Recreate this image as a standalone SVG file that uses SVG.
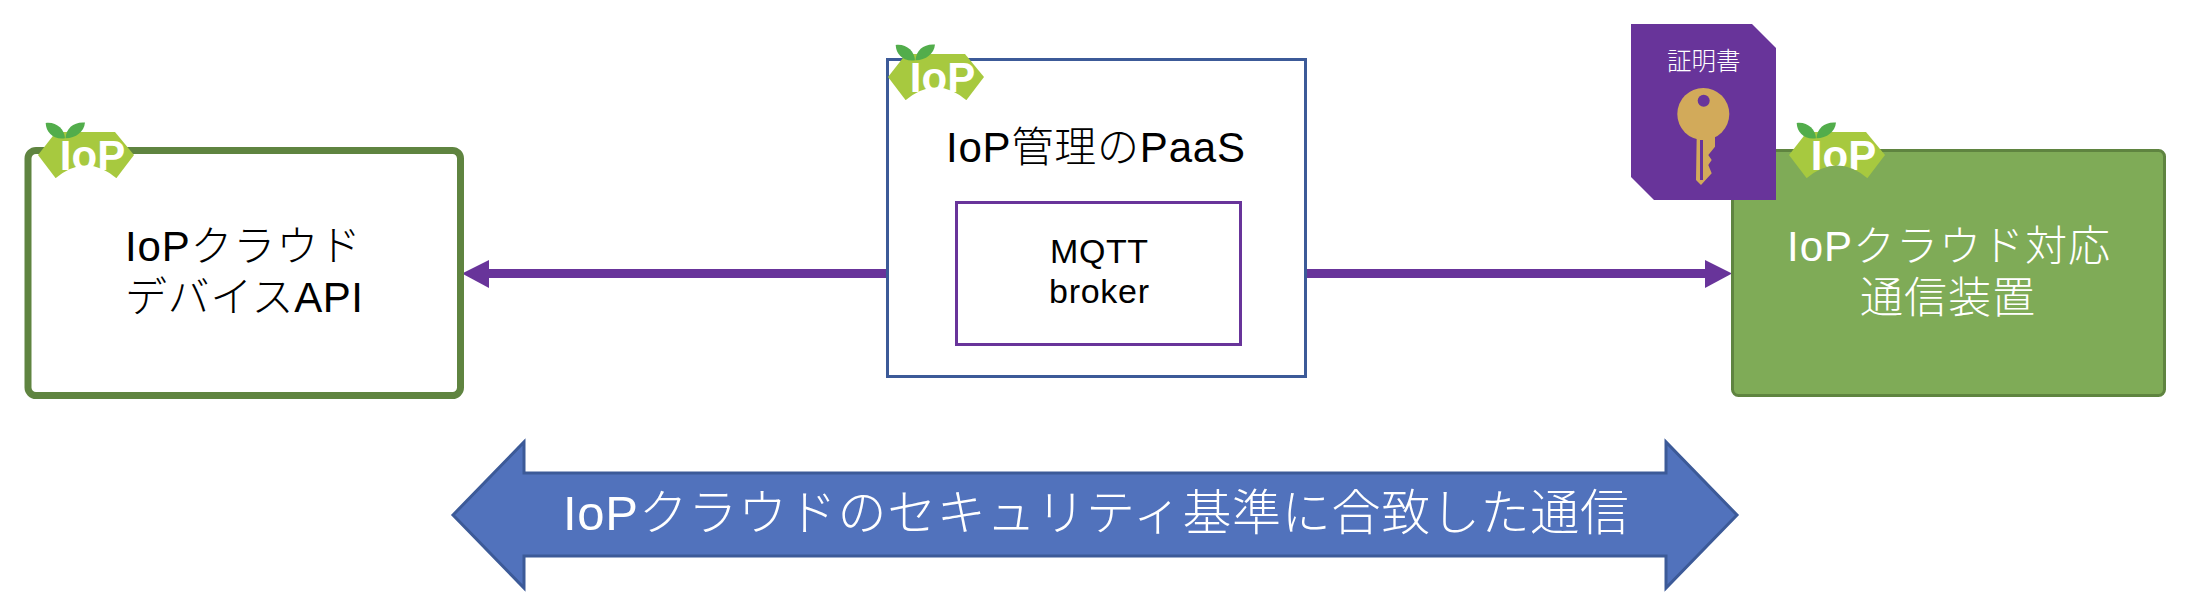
<svg xmlns="http://www.w3.org/2000/svg" width="2192" height="606" viewBox="0 0 2192 606">
<style>
.t{font-family:"Liberation Sans","Noto Sans CJK JP",sans-serif;font-weight:300}
.w{fill:#fff}
.k{fill:#000}
.lg{font-family:"Liberation Sans",sans-serif;font-weight:700;fill:#fff;font-size:42px;text-anchor:middle}
.leaf{fill:#52ad4b}
.hex{fill:#a7c93f}
.pu{fill:#68349a}
.key{fill:#d2aa5a}
</style>
<defs>
<g id="logo-base">
<polygon class="hex" points="0,23 18,0 77,0 96,23 78.500,46 17.500,46"/>
<path class="leaf" d="M7.700,-9C18,-10.500 26.500,-3 27,6.300C15,8 8,0 7.700,-9Z"/>
<path class="leaf" d="M47,-9.500C36,-10.500 28,-4 27.500,6.300C38,6 46,0 47,-9.500Z"/>
</g>
<path id="cap" d="M16.500,47Q48,20 79.500,47Z"/>
</defs>
<g id="connectors">
<rect class="pu" x="488" y="269" width="399" height="9"/>
<polygon class="pu" points="462,273.500 489,260 489,288"/>
<rect class="pu" x="1306" y="269" width="400" height="9"/>
<polygon class="pu" points="1732,273.500 1705,260 1705,288"/>
</g>
<g id="node-device">
<rect x="28" y="150.500" width="432.500" height="245" rx="8" fill="#fff" stroke="#5f8440" stroke-width="7"/>
<use href="#logo-base" x="38" y="132"/>
<text class="lg" x="92.500" y="170">IoP</text>
<use href="#cap" x="38" y="132" fill="#fff"/>
<text class="t k" x="125" y="261" font-size="42" textLength="236">IoPクラウド</text>
<text class="t k" x="125" y="312" font-size="42" textLength="238">デバイスAPI</text>
</g>
<g id="node-paas">
<rect x="887.500" y="59.500" width="418" height="317" fill="#fff" stroke="#3c5a98" stroke-width="3"/>
<use href="#logo-base" x="888" y="54"/>
<text class="lg" x="942.500" y="92">IoP</text>
<use href="#cap" x="888" y="54" fill="#fff"/>
<text class="t k" x="946" y="162" font-size="42" textLength="299">IoP管理のPaaS</text>
<rect x="956.500" y="202.500" width="284" height="142" fill="#fff" stroke="#68349a" stroke-width="3"/>
<text class="t k" x="1050" y="263" font-size="34" textLength="98">MQTT</text>
<text class="t k" x="1049" y="303" font-size="34" textLength="100">broker</text>
</g>
<g id="node-comm">
<rect x="1732.500" y="150.500" width="432" height="245" rx="6" fill="#7fab57" stroke="#5f8440" stroke-width="3"/>
<use href="#logo-base" x="1789" y="132"/>
<text class="lg" x="1843.500" y="170">IoP</text>
<use href="#cap" x="1789" y="132" fill="#7fab57"/>
<text class="t w" x="1787" y="261" font-size="42" textLength="323">IoPクラウド対応</text>
<text class="t w" x="1860" y="313" font-size="43" textLength="175">通信装置</text>
</g>
<g id="node-cert">
<polygon class="pu" points="1631,24 1752,24 1776,48 1776,200 1654,200 1631,177"/>
<text class="t w" x="1667" y="70" font-size="24.500">証明書</text>
<circle class="key" cx="1703.300" cy="114" r="26"/>
<circle class="pu" cx="1703.700" cy="100.700" r="6"/>
<polygon class="key" points="1696.700,136 1715,136 1715,146.700 1708.300,155 1711.700,160 1708.300,165 1711.700,173.300 1701,185 1696,180"/>
<rect class="pu" x="1700" y="140" width="3" height="40"/>
</g>
<g id="node-banner">
<polygon points="453,515 524,442 524,473 1666,473 1666,442 1737,515 1666,588 1666,556 524,556 524,588" fill="#5172bc" stroke="#3c5a98" stroke-width="3"/>
<text class="t w" x="563" y="530" font-size="49" textLength="1066">IoPクラウドのセキュリティ基準に合致した通信</text>
</g>
</svg>
